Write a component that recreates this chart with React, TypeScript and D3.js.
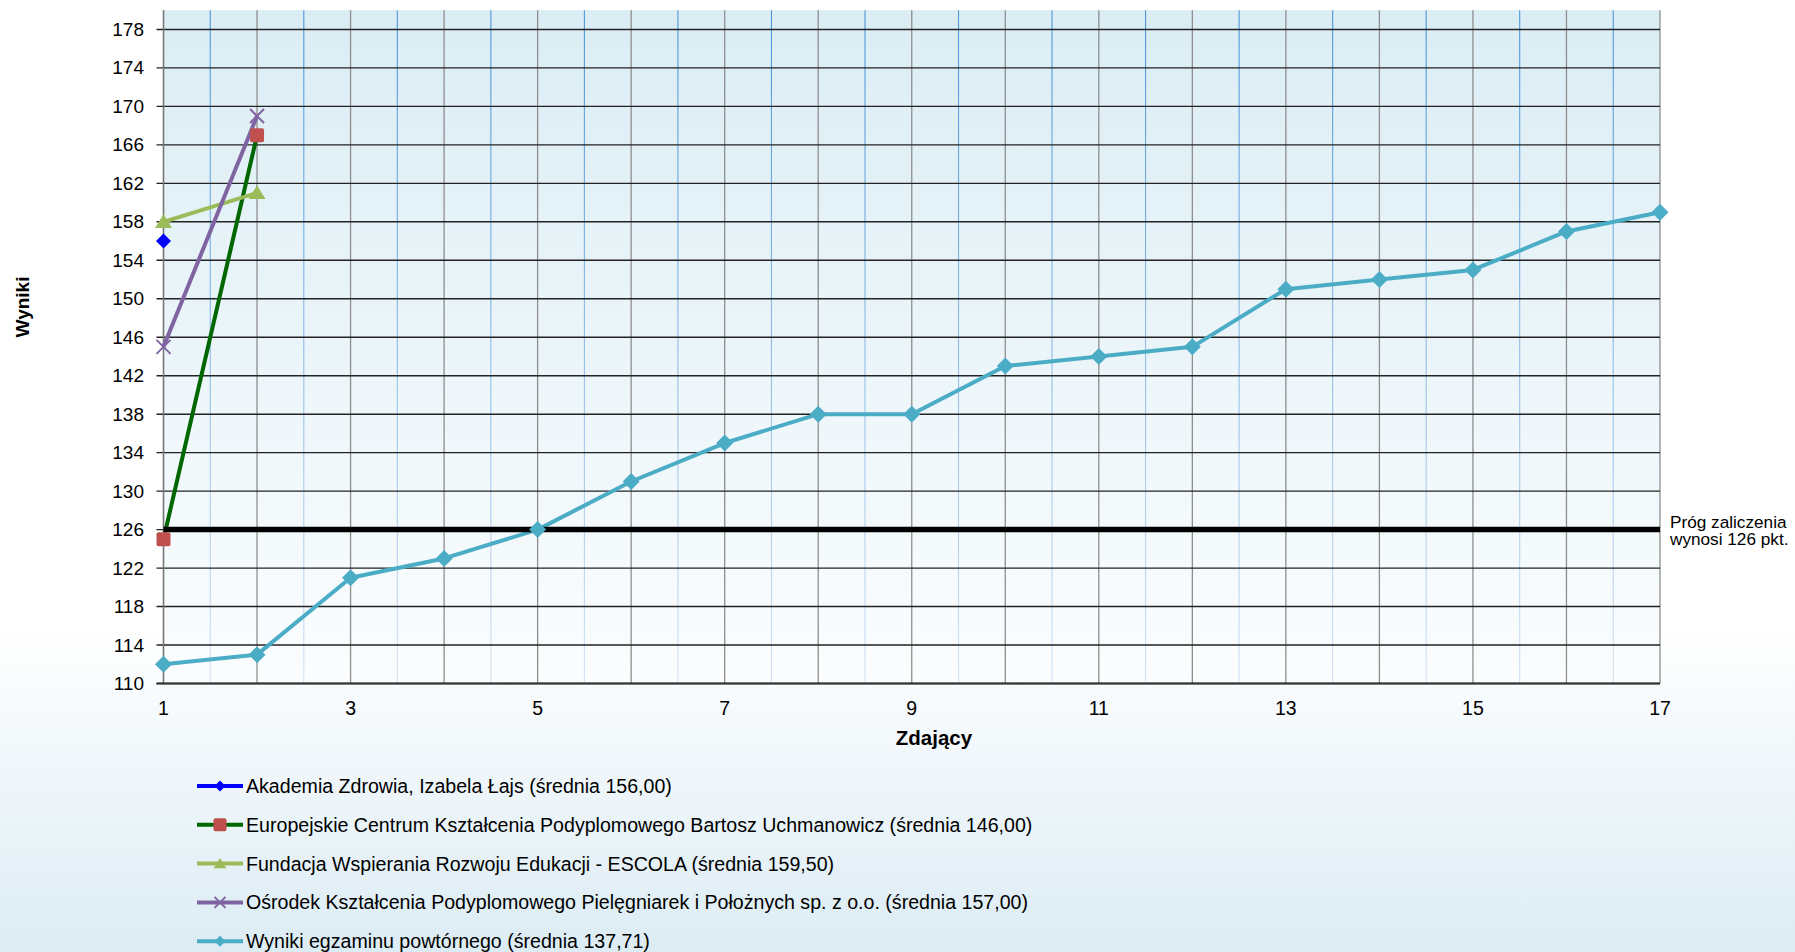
import React from "react";
import * as d3 from "d3";

const W = 1795;
const H = 952;

// ---- data ----
const xTicks = [1, 3, 5, 7, 9, 11, 13, 15, 17];
const yTicks = [110, 114, 118, 122, 126, 130, 134, 138, 142, 146, 150, 154, 158, 162, 166, 170, 174, 178];
const threshold = 126;
const thresholdLabel = ["Próg zaliczenia", "wynosi 126 pkt."];
const xTitle = "Zdający";
const yTitle = "Wyniki";

const akademia = [156];
const europejskie = [125, 167];
const fundacja = [158, 161];
const osrodek = [145, 169];
const powtorny = [112, 113, 121, 123, 126, 131, 135, 138, 138, 143, 144, 145, 151, 152, 153, 157, 159];

const seriesNames = [
  "Akademia Zdrowia, Izabela Łajs (średnia 156,00)",
  "Europejskie Centrum Kształcenia Podyplomowego Bartosz Uchmanowicz (średnia 146,00)",
  "Fundacja Wspierania Rozwoju Edukacji - ESCOLA (średnia 159,50)",
  "Ośrodek Kształcenia Podyplomowego Pielęgniarek i Położnych sp. z o.o. (średnia 157,00)",
  "Wyniki egzaminu powtórnego (średnia 137,71)",
];

type Marker = "diamond" | "square" | "triangle" | "x";
const series = [
  { name: seriesNames[0], values: akademia, line: "#0000ff", mark: "#0000ff", marker: "diamond" as Marker, ms: 7.5 },
  { name: seriesNames[1], values: europejskie, line: "#006600", mark: "#c0504d", marker: "square" as Marker, ms: 7 },
  { name: seriesNames[2], values: fundacja, line: "#9bbb59", mark: "#9bbb59", marker: "triangle" as Marker, ms: 8.5 },
  { name: seriesNames[3], values: osrodek, line: "#8064a2", mark: "#8064a2", marker: "x" as Marker, ms: 7 },
  { name: seriesNames[4], values: powtorny, line: "#4bacc6", mark: "#4bacc6", marker: "diamond" as Marker, ms: 8.5 },
];

const FONT = "'Liberation Sans', Arial, sans-serif";

const left = 163.5;
const right = 1660;
const top = 10.2;
const bottom = 683.5;

const x = d3.scaleLinear().domain([1, 17]).range([left, right]);
const y = d3.scaleLinear().domain([110, 180]).range([bottom, top]);

function MarkerShape({ type, cx, cy, s, color }: { type: Marker; cx: number; cy: number; s: number; color: string }) {
  if (type === "diamond") {
    return <path d={`M${cx},${cy - s}L${cx + s},${cy}L${cx},${cy + s}L${cx - s},${cy}Z`} fill={color} />;
  }
  if (type === "square") {
    return <rect x={cx - s} y={cy - s} width={2 * s} height={2 * s} rx={2} fill={color} />;
  }
  if (type === "triangle") {
    const h = s * 1.6;
    return <path d={`M${cx},${cy - h * 0.55}L${cx + s},${cy + h * 0.45}L${cx - s},${cy + h * 0.45}Z`} fill={color} />;
  }
  return (
    <path
      d={`M${cx - s},${cy - s}L${cx + s},${cy + s}M${cx - s},${cy + s}L${cx + s},${cy - s}`}
      stroke={color}
      strokeWidth={2}
      fill="none"
    />
  );
}

export default function App() {
  const line = d3
    .line<number>()
    .x((_, i) => x(i + 1))
    .y((d) => y(d));

  const intTicks = d3.range(1, 18);
  const halfTicks = d3.range(1.5, 17, 1);

  const legendY0 = 786;
  const legendStep = 38.8;

  return (
    <div>
      <style>{`body{margin:0}`}</style>
      <svg width={W} height={H} style={{ display: "block" }}>
        <defs>
          <linearGradient id="bg" x1="0" y1="0" x2="0" y2="1">
            <stop offset="0" stopColor="#ffffff" />
            <stop offset="0.66" stopColor="#ffffff" />
            <stop offset="1" stopColor="#dcecf4" />
          </linearGradient>
          <linearGradient id="plotbg" x1="0" y1="0" x2="0" y2="1">
            <stop offset="0" stopColor="#dbedf4" />
            <stop offset="1" stopColor="#fbfdfe" />
          </linearGradient>
          <linearGradient id="minorgrid" gradientUnits="userSpaceOnUse" x1="0" y1={top} x2="0" y2={bottom}>
            <stop offset="0" stopColor="#4a96da" />
            <stop offset="1" stopColor="#d3e2f3" />
          </linearGradient>
        </defs>
        <rect x={0} y={0} width={W} height={H} fill="url(#bg)" />
        <rect x={left} y={top} width={right - left} height={bottom - top} fill="url(#plotbg)" />

        {/* minor vertical grid */}
        {halfTicks.map((t) => (
          <line key={"h" + t} x1={x(t)} x2={x(t)} y1={top} y2={bottom} stroke="url(#minorgrid)" strokeWidth={1.1} />
        ))}
        {/* major vertical grid */}
        {intTicks.map((t) => (
          <line key={"v" + t} x1={x(t)} x2={x(t)} y1={top} y2={bottom} stroke="#8e8e8e" strokeWidth={1.3} />
        ))}
        {/* horizontal grid + y ticks */}
        {yTicks.map((t) => (
          <g key={"y" + t}>
            <line x1={left - 7} x2={right} y1={y(t)} y2={y(t)} stroke="#222" strokeWidth={1.4} />
            <text
              x={144}
              y={y(t)}
              textAnchor="end"
              dominantBaseline="central"
              fontFamily={FONT}
              fontSize={19}
              fill="#000"
            >
              {t}
            </text>
          </g>
        ))}
        {/* axes */}
        <line x1={left} x2={left} y1={top} y2={bottom} stroke="#777" strokeWidth={1.4} />
        <line x1={left - 7} x2={right} y1={bottom} y2={bottom} stroke="#333" strokeWidth={2} />

        {xTicks.map((t) => (
          <text
            key={"x" + t}
            x={x(t)}
            y={708}
            textAnchor="middle"
            dominantBaseline="central"
            fontFamily={FONT}
            fontSize={19.5}
            fill="#000"
          >
            {t}
          </text>
        ))}

        <text x={934} y={737} textAnchor="middle" dominantBaseline="central" fontFamily={FONT} fontSize={20.5} fontWeight="bold">
          {xTitle}
        </text>
        <text
          transform={`translate(22,307) rotate(-90)`}
          textAnchor="middle"
          dominantBaseline="central"
          fontFamily={FONT}
          fontSize={19}
          fontWeight="bold"
        >
          {yTitle}
        </text>

        {/* series lines */}
        {series.map((s) =>
          s.values.length > 1 ? (
            <path key={"l" + s.name} d={line(s.values) || ""} fill="none" stroke={s.line} strokeWidth={4} strokeLinejoin="round" />
          ) : null
        )}

        {/* threshold */}
        <line x1={left} x2={right} y1={y(threshold)} y2={y(threshold)} stroke="#000" strokeWidth={5.5} />
        {thresholdLabel.map((t, i) => (
          <text key={t} x={1670} y={522 + i * 17} dominantBaseline="central" fontFamily={FONT} fontSize={17.2} fill="#000">
            {t}
          </text>
        ))}

        {/* markers */}
        {series.map((s) =>
          s.values.map((v, i) => (
            <MarkerShape key={s.name + i} type={s.marker} cx={x(i + 1)} cy={y(v)} s={s.ms} color={s.mark} />
          ))
        )}

        {/* legend */}
        {series.map((s, i) => {
          const ly = legendY0 + i * legendStep;
          return (
            <g key={"lg" + i}>
              <line x1={197} x2={243} y1={ly} y2={ly} stroke={s.line} strokeWidth={4} />
              <MarkerShape
                type={s.marker}
                cx={220}
                cy={ly}
                s={s.marker === "square" ? 6.5 : s.marker === "triangle" ? 6.5 : 5.5}
                color={s.mark}
              />
              <text x={246} y={ly} dominantBaseline="central" fontFamily={FONT} fontSize={19.6} fill="#000">
                {s.name}
              </text>
            </g>
          );
        })}
      </svg>
    </div>
  );
}
